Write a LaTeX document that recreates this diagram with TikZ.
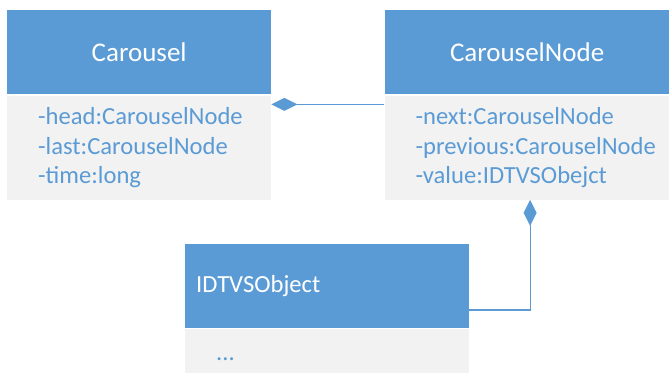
\documentclass[tikz,border=0pt]{standalone}
\usepackage{fontspec}
\setmainfont{Carlito}
\usetikzlibrary{positioning,arrows.meta}
\definecolor{HeadBlue}{HTML}{5B9BD5}
\definecolor{BodyGray}{HTML}{F2F2F2}
\tikzstyle{ClassHead}=[rectangle, fill=HeadBlue, text=white, inner sep=0pt, minimum height=84pt, font=\fontsize{27}{32}\selectfont]
\tikzstyle{ClassBody}=[rectangle, fill=BodyGray, text=HeadBlue, inner sep=0pt, minimum height=104pt, align=left, font=\fontsize{24.6}{29.5}\selectfont, execute at begin node={\leftskip=31pt}]
\tikzstyle{Aggregation}=[draw=HeadBlue, line width=1.2pt, {Diamond[length=26pt, width=13pt, fill=HeadBlue]}-]

\begin{document}
\begin{tikzpicture}[x=1pt, y=-1pt]
    \useasboundingbox (0,0) rectangle (669,372);

    \node (carouselHead) [ClassHead, minimum width=264pt, anchor=north west] at (7,10) {Carousel};
    \node (carouselBody) [ClassBody, text width=264pt, below=1pt of carouselHead] {-head:CarouselNode\\-last:CarouselNode\\-time:long};
    \node (nodeHead) [ClassHead, minimum width=285pt, right=113pt of carouselHead] {CarouselNode};
    \node (nodeBody) [ClassBody, text width=285pt, below=1pt of nodeHead] {-next:CarouselNode\\-previous:CarouselNode\\-value:IDTVSObejct};
    \node (objectHead) [ClassHead, text width=284pt, align=left, font=\fontsize{24.6}{29.5}\selectfont, execute at begin node={\leftskip=11pt}, below right=44pt and 178pt of carouselBody.south west] {IDTVSObject};
    \node (objectBody) [ClassBody, text width=284pt, minimum height=60pt, below=1pt of objectHead] {...};

    \draw [Aggregation] ([yshift=-9pt]carouselBody.north east) -- ([yshift=-9pt]nodeBody.north west);
    \draw [Aggregation] ([xshift=3pt]nodeBody.south) |- ([yshift=-24pt]objectHead.east);
\end{tikzpicture}
\end{document}
